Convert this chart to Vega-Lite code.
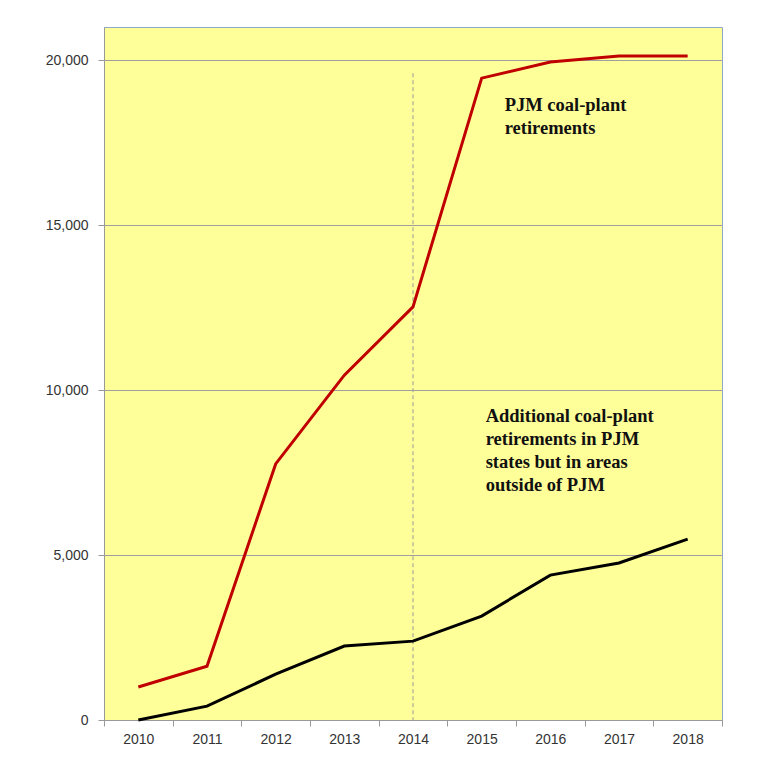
{
  "$schema": "https://vega.github.io/schema/vega-lite/v6.json",
  "width": 618,
  "height": 693,
  "autosize": {"type": "none"},
  "padding": {"left": 104, "top": 27, "right": 40, "bottom": 54},
  "background": "white",
  "config": {
    "view": {"fill": "#FFFF99", "stroke": "#8FA8C8", "strokeWidth": 1},
    "axis": {"labelFont": "Liberation Sans", "labelFontSize": 14, "labelColor": "#333333", "domainColor": "#999999", "tickColor": "#999999", "tickSize": 6, "title": null}
  },
  "datasets": {
    "series": [
      {"year": "2010", "series": "PJM", "value": 1000},
      {"year": "2011", "series": "PJM", "value": 1630},
      {"year": "2012", "series": "PJM", "value": 7760},
      {"year": "2013", "series": "PJM", "value": 10450},
      {"year": "2014", "series": "PJM", "value": 12520},
      {"year": "2015", "series": "PJM", "value": 19450},
      {"year": "2016", "series": "PJM", "value": 19940},
      {"year": "2017", "series": "PJM", "value": 20120},
      {"year": "2018", "series": "PJM", "value": 20120},
      {"year": "2010", "series": "Outside", "value": 0},
      {"year": "2011", "series": "Outside", "value": 420},
      {"year": "2012", "series": "Outside", "value": 1390},
      {"year": "2013", "series": "Outside", "value": 2240},
      {"year": "2014", "series": "Outside", "value": 2390},
      {"year": "2015", "series": "Outside", "value": 3150},
      {"year": "2016", "series": "Outside", "value": 4390},
      {"year": "2017", "series": "Outside", "value": 4760},
      {"year": "2018", "series": "Outside", "value": 5480}
    ]
  },
  "layer": [
    {
      "data": {"values": [{"year": "2014", "top": 19600, "bottom": 0}]},
      "mark": {"type": "rule", "color": "#999999", "strokeWidth": 1, "strokeDash": [4, 3]},
      "encoding": {
        "x": {"field": "year", "type": "ordinal", "scale": {"type": "band", "paddingInner": 0, "paddingOuter": 0}},
        "y": {"field": "top", "type": "quantitative"},
        "y2": {"field": "bottom"}
      }
    },
    {
      "data": {"name": "series"},
      "mark": {"type": "line", "strokeWidth": 3, "strokeCap": "butt", "strokeJoin": "miter"},
      "encoding": {
        "x": {
          "field": "year", "type": "ordinal",
          "scale": {"type": "band", "paddingInner": 0, "paddingOuter": 0},
          "axis": {"labelAngle": 0, "labelAlign": "center", "tickBand": "extent", "labelPadding": 13, "grid": false}
        },
        "y": {
          "field": "value", "type": "quantitative",
          "scale": {"domain": [0, 21000], "nice": false},
          "axis": {"values": [0, 5000, 10000, 15000, 20000], "format": ",d", "grid": true, "gridColor": "#A0A0A0", "gridWidth": 1, "gridOpacity": 1, "labelPadding": 10}
        },
        "color": {"field": "series", "type": "nominal", "scale": {"domain": ["PJM", "Outside"], "range": ["#C00000", "#000000"]}, "legend": null}
      }
    },
    {
      "data": {"values": [{"year": "2015", "value": 18900, "label": "PJM coal-plant\nretirements"}]},
      "mark": {"type": "text", "align": "left", "baseline": "top", "dx": 23, "font": "Liberation Serif", "fontWeight": "bold", "fontSize": 18.5, "lineHeight": 23, "lineBreak": "\n", "color": "#111111"},
      "encoding": {
        "x": {"field": "year", "type": "ordinal"},
        "y": {"field": "value", "type": "quantitative"},
        "text": {"field": "label"}
      }
    },
    {
      "data": {"values": [{"year": "2015", "value": 9480, "label": "Additional coal-plant\nretirements in PJM\nstates but in areas\noutside of PJM"}]},
      "mark": {"type": "text", "align": "left", "baseline": "top", "dx": 4, "font": "Liberation Serif", "fontWeight": "bold", "fontSize": 18.5, "lineHeight": 23, "lineBreak": "\n", "color": "#111111"},
      "encoding": {
        "x": {"field": "year", "type": "ordinal"},
        "y": {"field": "value", "type": "quantitative"},
        "text": {"field": "label"}
      }
    }
  ]
}
